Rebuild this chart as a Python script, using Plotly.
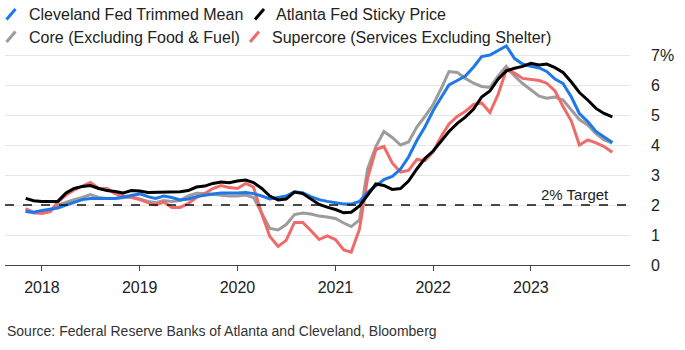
import plotly.graph_objects as go
import pandas as pd

# ---------------- data ----------------
dates = pd.date_range("2017-11-01", "2023-11-01", freq="MS")

cleveland = [1.78, 1.76,
             1.82, 1.86, 1.90, 2.00, 2.10, 2.18, 2.22, 2.22, 2.22, 2.22, 2.27, 2.32,
             2.37, 2.28, 2.22, 2.30, 2.25, 2.17, 2.20, 2.28, 2.33, 2.37, 2.40, 2.39,
             2.40, 2.42, 2.38, 2.30, 2.20, 2.25, 2.30, 2.44, 2.41, 2.28, 2.18, 2.12,
             2.08, 2.03, 2.03, 2.12, 2.42, 2.63, 2.85, 2.95, 3.20, 3.60, 4.15, 4.60,
             5.15, 5.60, 6.00, 6.15, 6.30, 6.60, 6.95, 7.00, 7.15, 7.30, 6.88, 6.70,
             6.62, 6.57, 6.45, 6.20, 6.05, 5.60, 5.05, 4.78, 4.45, 4.27, 4.08]

atlanta = [2.22, 2.14,
           2.12, 2.13, 2.12, 2.40, 2.55, 2.62, 2.65, 2.55, 2.48, 2.45, 2.40, 2.48,
           2.47, 2.42, 2.43, 2.43, 2.44, 2.44, 2.48, 2.60, 2.63, 2.72, 2.77, 2.74,
           2.80, 2.83, 2.75, 2.55, 2.30, 2.17, 2.20, 2.43, 2.38, 2.20, 2.02, 1.93,
           1.85, 1.74, 1.76, 1.97, 2.35, 2.70, 2.65, 2.52, 2.55, 2.80, 3.20, 3.55,
           3.80, 4.15, 4.45, 4.72, 4.93, 5.20, 5.60, 5.80, 6.20, 6.47, 6.56, 6.62,
           6.72, 6.67, 6.70, 6.58, 6.42, 6.10, 5.75, 5.50, 5.22, 5.05, 4.94]

core = [1.80, 1.73,
        1.75, 1.80, 2.00, 2.10, 2.18, 2.25, 2.35, 2.25, 2.22, 2.22, 2.24, 2.27,
        2.20, 2.12, 2.08, 2.15, 2.12, 2.15, 2.30, 2.39, 2.38, 2.35, 2.32, 2.30,
        2.30, 2.33, 2.25, 1.75, 1.22, 1.17, 1.35, 1.68, 1.73, 1.70, 1.63, 1.60,
        1.55, 1.40, 1.28, 1.50, 3.20, 3.95, 4.45, 4.25, 4.00, 4.10, 4.60, 4.95,
        5.35, 5.90, 6.45, 6.42, 6.22, 6.06, 5.95, 5.92, 6.30, 6.62, 6.30, 6.05,
        5.83, 5.63, 5.56, 5.60, 5.50, 5.15, 4.85, 4.67, 4.38, 4.17, 4.06]

supercore = [1.88, 1.75,
             1.72, 1.78, 2.10, 2.33, 2.50, 2.62, 2.75, 2.55, 2.55, 2.38, 2.30, 2.25,
             2.18, 2.08, 2.00, 2.10, 1.92, 1.92, 2.05, 2.25, 2.38, 2.55, 2.65, 2.58,
             2.55, 2.72, 2.60, 1.70, 0.95, 0.62, 0.82, 1.42, 1.42, 1.15, 0.85, 0.97,
             0.85, 0.50, 0.43, 1.20, 2.90, 3.85, 3.95, 3.40, 3.10, 3.15, 3.52, 3.48,
             3.78, 4.30, 4.70, 4.95, 5.12, 5.35, 5.40, 5.08, 5.70, 6.50, 6.40, 6.22,
             6.18, 6.15, 6.06, 5.80, 5.28, 4.80, 4.00, 4.17, 4.07, 3.95, 3.76]

series_names = ["Cleveland Fed Trimmed Mean", "Atlanta Fed Sticky Price",
                "Core (Excluding Food & Fuel)", "Supercore (Services Excluding Shelter)"]
series_colors = ["#1f77e8", "#000000", "#9c9c9c", "#f06a6a"]

year_ticks = ["2018-01-01", "2019-01-01", "2020-01-01", "2021-01-01", "2022-01-01", "2023-01-01"]
year_labels = ["2018", "2019", "2020", "2021", "2022", "2023"]
y_ticks = [0, 1, 2, 3, 4, 5, 6, 7]
y_labels = ["0", "1", "2", "3", "4", "5", "6", "7%"]
target = 2
target_label = "2% Target"
source_text = "Source: Federal Reserve Banks of Atlanta and Cleveland, Bloomberg"

# ---------------- layout helpers ----------------
FONT = "Liberation Sans, Arial, Helvetica, sans-serif"
W, H = 685, 350
L, R, T, B = 5, 55, 43, 85
PW, PH = W - L - R, H - T - B


def px_x(px):
    return (px - L) / PW


def px_y(py):
    return (H - B - py) / PH


fig = go.Figure()

values = {0: cleveland, 1: atlanta, 2: core, 3: supercore}
for idx in [2, 3, 0, 1]:
    fig.add_trace(go.Scatter(x=dates, y=values[idx], mode="lines", name=series_names[idx],
                             line=dict(color=series_colors[idx], width=3),
                             showlegend=False, hoverinfo="skip"))

# target line
fig.add_shape(type="line", xref="paper", yref="y", x0=0, x1=1, y0=target, y1=target,
              line=dict(color="#111", width=1.6, dash="dash"))
fig.add_annotation(x=px_x(611), y=target, xref="paper", yref="y", text=target_label,
                   showarrow=False, xanchor="right", yanchor="middle", yshift=11,
                   font=dict(family=FONT, size=15, color="#222"))

# custom legend with slash icons
legend_pos = [(6.5, 14.5, 27), (255, 14.5, 274), (6.5, 37, 27), (250, 37, 270)]
for i, (ix, iy, tx) in enumerate(legend_pos):
    fig.add_shape(type="line", xref="paper", yref="paper",
                  x0=px_x(ix), y0=px_y(iy + 5), x1=px_x(ix + 9), y1=px_y(iy - 5.5),
                  line=dict(color=series_colors[i], width=3))
    fig.add_annotation(x=px_x(tx), y=px_y(iy), xref="paper", yref="paper",
                       text=series_names[i], showarrow=False, xanchor="left",
                       yanchor="middle", font=dict(family=FONT, size=16, color="#222"))

fig.add_annotation(x=px_x(5), y=px_y(331), xref="paper", yref="paper", text=source_text,
                   showarrow=False, xanchor="left", yanchor="middle",
                   font=dict(family=FONT, size=14, color="#333"))

fig.update_layout(
    width=W, height=H, margin=dict(l=L, r=R, t=T, b=B, pad=0),
    paper_bgcolor="white", plot_bgcolor="white",
    font=dict(family=FONT, size=16, color="#222"),
    showlegend=False,
    xaxis=dict(range=["2017-08-16", "2024-01-06"], tickvals=year_ticks, ticktext=year_labels,
               showgrid=False, zeroline=False, showline=True, linecolor="#444", linewidth=1,
               ticks="outside", ticklen=5, tickcolor="#444", tickwidth=1,
               ticklabelstandoff=3,
               tickfont=dict(family=FONT, size=16, color="#222")),
    yaxis=dict(range=[0, 7.4], side="right", tickvals=y_ticks, ticktext=y_labels,
               showgrid=True, gridcolor="#e6e6e6", gridwidth=1, zeroline=False,
               showline=False, ticks="", ticklabelstandoff=20,
               tickfont=dict(family=FONT, size=16, color="#222")),
)

fig.write_html("out.html")
